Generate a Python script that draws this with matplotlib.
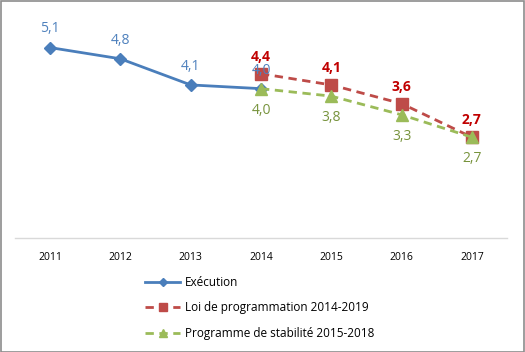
import matplotlib
matplotlib.use("Agg")
import matplotlib.pyplot as plt
from matplotlib.patches import Rectangle

years = ["2011", "2012", "2013", "2014", "2015", "2016", "2017"]
execution = [5.1, 4.8, 4.1, 4.0, None, None, None]
loi_prog = [None, None, None, 4.4, 4.1, 3.6, 2.7]
prog_stab = [None, None, None, 4.0, 3.8, 3.3, 2.7]

plt.rcParams['font.family'] = ['Open Sans', 'DejaVu Sans']

W, H = 525, 352
fig = plt.figure(figsize=(W / 100, H / 100), dpi=100)
ax = fig.add_axes([15 / W, 1 - 238 / H, (507 - 15) / W, (238 - 14) / H])

blue, red, green = "#4A7EBB", "#BE4B48", "#9BBB59"
blue_t, red_t, green_t = "#4F81BD", "#C00000", "#77933C"

def xy(vals):
    xs = [i for i, v in enumerate(vals) if v is not None]
    ys = [v for v in vals if v is not None]
    return xs, ys

x1, y1 = xy(execution)
x2, y2 = xy(loi_prog)
x3, y3 = xy(prog_stab)

l1, = ax.plot(x1, y1, color=blue, lw=2, marker="D", ms=6, label="Exécution", zorder=3)
l2, = ax.plot(x2, y2, color=red, lw=2, ls=(0, (3, 2)), marker="s", ms=8, label="Loi de programmation 2014-2019", zorder=4)
l3, = ax.plot(x3, y3, color=green, lw=2, ls=(0, (3, 2)), marker="^", ms=8, label="Programme de stabilité 2015-2018", zorder=5)

fmt = lambda v: f"{v:.1f}".replace(".", ",")
for x, y in zip(x1, y1):
    ax.annotate(fmt(y), (x, y), xytext=(0, 8), textcoords="offset points", ha="center", va="bottom",
                color=blue_t, fontsize=10, zorder=6)
for x, y in zip(x2, y2):
    ax.annotate(fmt(y), (x, y), xytext=(0, 7), textcoords="offset points", ha="center", va="bottom",
                color=red_t, fontsize=10, fontweight="bold", zorder=6)
for x, y in zip(x3, y3):
    ax.annotate(fmt(y), (x, y), xytext=(0, -10), textcoords="offset points", ha="center", va="top",
                color=green_t, fontsize=10, zorder=6)

ax.set_xlim(-0.5, 6.5)
ax.set_ylim(0, 6)
ax.set_xticks(range(len(years)))
ax.set_xticklabels(years, fontsize=7.5)
ax.set_yticks([])
ax.tick_params(axis="x", length=0, pad=10)
for s in ["top", "right", "left"]:
    ax.spines[s].set_visible(False)
ax.spines["bottom"].set_color("#D9D9D9")
ax.spines["bottom"].set_linewidth(1)

fig.legend(handles=[l1, l2, l3], loc="upper left", bbox_to_anchor=(145 / W, 1 - 276 / H),
           frameon=False, fontsize=8.5, handlelength=3.0, labelspacing=1.05, handletextpad=0.35,
           markerscale=0.7, borderaxespad=0, borderpad=0)

fig.patches.append(Rectangle((0.5 / W, 0.5 / H), 1 - 1.5 / W, 1 - 1.5 / H, transform=fig.transFigure,
                             fill=False, edgecolor="#8C8C8C", lw=1.2))

fig.savefig("out.png", dpi=100)
